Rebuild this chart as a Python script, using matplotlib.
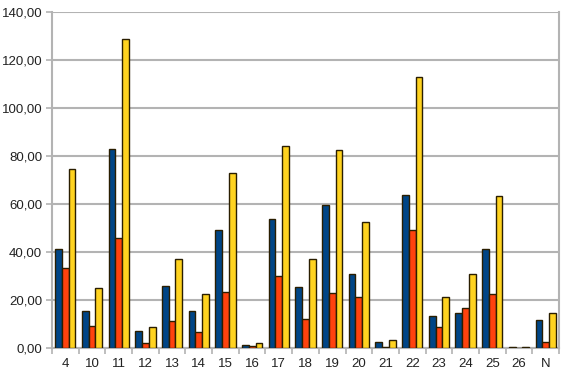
import numpy as np
import matplotlib.pyplot as plt
from matplotlib.ticker import FuncFormatter

categories = ["4", "10", "11", "12", "13", "14", "15", "16", "17", "18",
              "19", "20", "21", "22", "23", "24", "25", "26", "N"]
blue = [41.4, 15.4, 83.0, 7.2, 26.0, 15.5, 49.3, 1.1, 53.9, 25.3,
        59.7, 30.8, 2.6, 63.9, 13.5, 14.4, 41.1, 0.4, 11.8]
orange = [33.2, 9.3, 46.0, 2.2, 11.4, 6.8, 23.5, 0.8, 30.1, 12.1,
          23.0, 21.4, 0.3, 49.3, 8.6, 16.8, 22.6, 0.2, 2.6]
yellow = [74.6, 25.0, 128.8, 8.75, 37.2, 22.5, 73.1, 2.2, 84.3, 37.2,
          82.5, 52.6, 3.5, 113.0, 21.4, 31.0, 63.3, 0.4, 14.7]

plt.rcParams['font.family'] = ['Liberation Sans', 'DejaVu Sans']

fig = plt.figure(figsize=(5.71, 3.79), dpi=100)
ax = fig.add_axes([52 / 571, 31 / 379, 507 / 571, 336 / 379])

x = np.arange(len(categories))
w = 0.76 / 3
for i, (vals, col) in enumerate([(blue, "#004586"), (orange, "#ff420e"), (yellow, "#ffd320")]):
    ax.bar(x + (i - 1) * w, vals, w, color=col, edgecolor="#2a1e00", linewidth=1.0, zorder=3)

ax.set_xlim(-0.5, len(categories) - 0.5)
ax.set_ylim(0, 140)
ax.set_yticks(np.arange(0, 141, 20))
ax.yaxis.set_major_formatter(FuncFormatter(lambda v, p: f"{v:.2f}".replace(".", ",")))
ax.set_xticks(x)
ax.set_xticklabels(categories)
ax.set_xticks(np.arange(-0.5, len(categories), 1), minor=True)
ax.tick_params(axis="x", which="major", length=0, pad=7, labelsize=9.5, colors="#222222")
ax.tick_params(axis="x", which="minor", length=4, color="#b3b3b3", width=1.2)
ax.tick_params(axis="y", length=4, color="#b3b3b3", width=1.2, labelsize=9.5, labelcolor="#222222", pad=3)

ax.grid(axis="y", color="#b3b3b3", linewidth=1.5, zorder=0)
for s in ["left", "right", "bottom"]:
    ax.spines[s].set_color("#b3b3b3")
    ax.spines[s].set_linewidth(1.5)
ax.spines["top"].set_visible(False)

fig.savefig("out.png", dpi=100)
